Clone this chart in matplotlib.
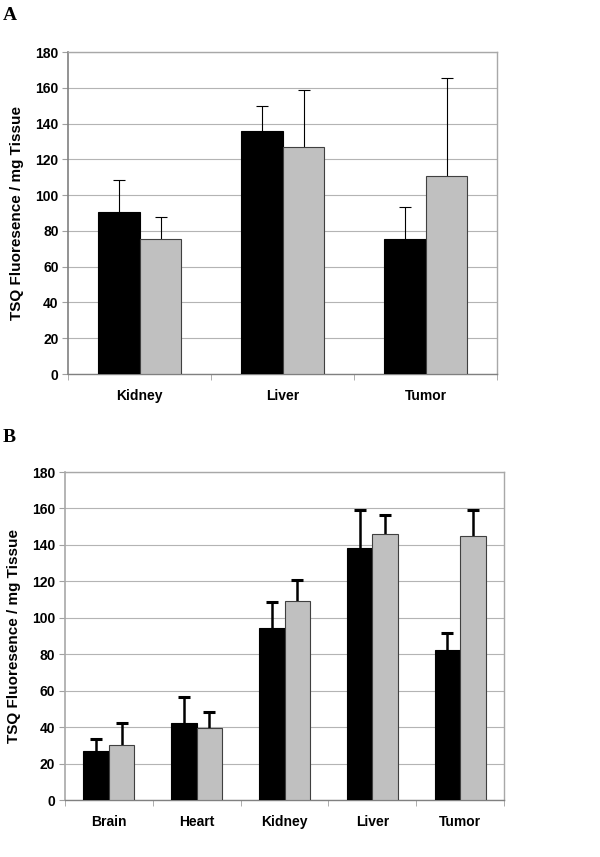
import matplotlib.pyplot as plt
import numpy as np

plt.rcParams['font.family'] = ['Liberation Sans', 'DejaVu Sans']
plt.rcParams['font.weight'] = 'bold'

# panel A data
cats_a = ['Kidney', 'Liver', 'Tumor']
black_a = [90.4, 136.0, 75.5]
black_a_err = [18.0, 13.9, 17.8]
gray_a = [75.5, 127.0, 110.6]
gray_a_err = [12.3, 31.5, 55.1]

# panel B data
cats_b = ['Brain', 'Heart', 'Kidney', 'Liver', 'Tumor']
black_b = [27.1, 42.3, 94.3, 138.1, 82.4]
black_b_err = [6.2, 14.3, 14.1, 21.0, 9.0]
gray_b = [30.0, 39.7, 109.0, 146.1, 144.7]
gray_b_err = [12.1, 8.6, 11.7, 10.1, 14.4]

yticks = list(range(0, 181, 20))


def up_errbar(ax, x, y, err, elw, cap, capthick):
    eb = ax.errorbar(x, y, yerr=[np.zeros(len(y)), err], fmt='none', ecolor='black',
                     elinewidth=elw, capsize=cap, capthick=capthick, zorder=2)
    # hide the lower cap, only the upper one is drawn in the original
    eb[1][0].set_visible(False)


def draw_panel(ax, cats, blk, blk_err, gry, gry_err, elw, cap, capthick, lspine):
    x = np.arange(len(cats))
    w = 0.29
    up_errbar(ax, x - w / 2, blk, blk_err, elw, cap, capthick)
    up_errbar(ax, x + w / 2, gry, gry_err, elw, cap, capthick)
    ax.bar(x - w / 2, blk, w, color='black', edgecolor='black', linewidth=0.8, zorder=3)
    ax.bar(x + w / 2, gry, w, color='#c0c0c0', edgecolor='#404040', linewidth=0.8, zorder=3)
    ax.set_xlim(-0.5, len(cats) - 0.5)
    ax.set_ylim(0, 180)
    ax.set_yticks(yticks)
    ax.yaxis.grid(True, color='#b4b4b4', linewidth=0.8)
    ax.set_axisbelow(True)
    ax.set_xticks(x)
    ax.set_xticklabels(cats, fontsize=10, fontweight='bold')
    ax.set_xticks(np.arange(len(cats) + 1) - 0.5, minor=True)
    ax.tick_params(axis='x', which='major', length=0, pad=11)
    ax.tick_params(axis='x', which='minor', length=4, color='#a0a0a0', direction='out')
    ax.tick_params(axis='y', length=4, color='#a0a0a0', labelsize=10, pad=3)
    for t in ax.get_yticklabels():
        t.set_fontweight('bold')
    for side in ['top', 'right']:
        ax.spines[side].set_color('#a8a8a8')
        ax.spines[side].set_linewidth(1.0)
    ax.spines['left'].set_color(lspine)
    ax.spines['left'].set_linewidth(1.2)
    ax.spines['bottom'].set_color('#808080')
    ax.spines['bottom'].set_linewidth(1.0)
    ax.set_ylabel('TSQ Fluoresence / mg Tissue', fontsize=11, fontweight='bold', labelpad=8)


fig = plt.figure(figsize=(6, 8.57), dpi=100)

ax1 = fig.add_axes([68.3 / 600, 1 - 374 / 857, (497.3 - 68.3) / 600, (374 - 52) / 857])
draw_panel(ax1, cats_a, black_a, black_a_err, gray_a, gray_a_err, 0.8, 4.5, 0.8, '#808080')

ax2 = fig.add_axes([65 / 600, 1 - 800 / 857, (504 - 65) / 600, (800 - 472) / 857])
draw_panel(ax2, cats_b, black_b, black_b_err, gray_b, gray_b_err, 1.8, 4.5, 2.2, '#a8a8a8')

fig.text(3 / 600, 1 - 16 / 857, 'A', fontsize=14, fontweight='bold',
         family=['Liberation Serif', 'DejaVu Serif'], va='center', ha='left')
fig.text(3 / 600, 1 - 438 / 857, 'B', fontsize=14, fontweight='bold',
         family=['Liberation Serif', 'DejaVu Serif'], va='center', ha='left')

fig.savefig('out.png', dpi=100)
